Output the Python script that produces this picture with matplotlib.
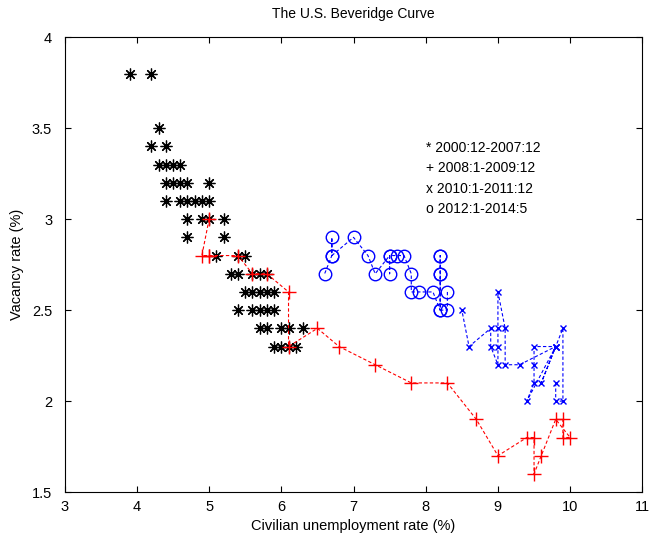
import matplotlib
matplotlib.use('Agg')
import matplotlib.pyplot as plt

plt.rcParams['font.family'] = ['Liberation Sans', 'DejaVu Sans']

# 2000:12-2007:12 (markers only)
u_00 = [3.9, 4.2,
        4.3,
        4.2, 4.4,
        4.3, 4.4, 4.5, 4.6,
        4.4, 4.5, 4.6, 4.7, 5.0,
        4.4, 4.6, 4.7, 4.8, 4.9, 5.0,
        4.7, 4.9, 5.0, 5.2,
        4.7, 5.2,
        5.1, 5.4, 5.5,
        5.3, 5.4, 5.6, 5.7, 5.8,
        5.5, 5.6, 5.7, 5.8, 5.9,
        5.4, 5.6, 5.7, 5.8, 5.9,
        5.7, 5.8, 6.0, 6.1, 6.3,
        5.9, 6.0, 6.1, 6.2]
v_00 = [3.8, 3.8,
        3.5,
        3.4, 3.4,
        3.3, 3.3, 3.3, 3.3,
        3.2, 3.2, 3.2, 3.2, 3.2,
        3.1, 3.1, 3.1, 3.1, 3.1, 3.1,
        3.0, 3.0, 3.0, 3.0,
        2.9, 2.9,
        2.8, 2.8, 2.8,
        2.7, 2.7, 2.7, 2.7, 2.7,
        2.6, 2.6, 2.6, 2.6, 2.6,
        2.5, 2.5, 2.5, 2.5, 2.5,
        2.4, 2.4, 2.4, 2.4, 2.4,
        2.3, 2.3, 2.3, 2.3]

# 2008:1-2009:12
u_08 = [5.0, 4.9, 5.0, 5.0, 5.4, 5.6, 5.8, 6.1, 6.1, 6.5, 6.8, 7.3,
        7.8, 8.3, 8.7, 9.0, 9.4, 9.5, 9.5, 9.6, 9.8, 10.0, 9.9, 9.9]
v_08 = [3.0, 2.8, 2.8, 2.8, 2.8, 2.7, 2.7, 2.6, 2.3, 2.4, 2.3, 2.2,
        2.1, 2.1, 1.9, 1.7, 1.8, 1.8, 1.6, 1.7, 1.9, 1.8, 1.8, 1.9]

# 2010:1-2011:12
u_10 = [9.8, 9.8, 9.9, 9.9, 9.8, 9.4, 9.5, 9.5, 9.5, 9.8, 9.6, 9.8,
        9.3, 9.1, 9.1, 9.0, 9.0, 9.0, 9.0, 8.9, 8.9, 8.6, 8.5]
v_10 = [2.1, 2.0, 2.0, 2.4, 2.3, 2.0, 2.1, 2.2, 2.3, 2.3, 2.1, 2.3,
        2.2, 2.2, 2.4, 2.6, 2.4, 2.3, 2.2, 2.3, 2.4, 2.3, 2.5]

# 2012:1-2014:5
u_12 = [8.3, 8.3, 8.2, 8.2, 8.2, 8.2, 8.2, 8.2, 8.1, 7.9, 7.8, 7.8,
        7.7, 7.6, 7.5, 7.5, 7.5, 7.3, 7.2, 7.0, 6.7, 6.7, 6.7, 6.6]
v_12 = [2.6, 2.5, 2.5, 2.7, 2.8, 2.8, 2.7, 2.5, 2.6, 2.6, 2.6, 2.7,
        2.8, 2.8, 2.8, 2.7, 2.8, 2.7, 2.8, 2.9, 2.8, 2.9, 2.8, 2.7]

labels = ['* 2000:12-2007:12', '+ 2008:1-2009:12',
          'x 2010:1-2011:12', 'o 2012:1-2014:5']

fig = plt.figure(figsize=(6.52, 5.39), dpi=100)
ax = fig.add_axes([0.0992, 0.087, 0.8860, 0.844])

ax.plot(u_00, v_00, linestyle='none', marker=(8, 2, 0), markersize=8.5,
        markeredgewidth=0.9, color='k')
ax.plot(u_08, v_08, linestyle=(0, (3, 2)), linewidth=0.8, color='r',
        marker='+', markersize=10, markeredgewidth=1.0)
ax.plot(u_10, v_10, linestyle=(0, (3, 2)), linewidth=0.8, color='b',
        marker='x', markersize=5, markeredgewidth=1.0)
ax.plot(u_12, v_12, linestyle=(0, (3, 2)), linewidth=0.8, color='b',
        marker='o', markersize=9, markerfacecolor='none', markeredgewidth=1.0)

for i, s in enumerate(labels):
    ax.text(8.0, 3.39 - 0.111 * i, s, fontsize=10, va='center', ha='left')

ax.set_xlim(3, 11)
ax.set_ylim(1.5, 4)
ax.set_xticks(range(3, 12))
ax.set_yticks([1.5, 2, 2.5, 3, 3.5, 4])
ax.set_yticklabels(['1.5', '2', '2.5', '3', '3.5', '4'])
ax.tick_params(direction='in', length=4, top=True, right=True, labelsize=10.5)
ax.tick_params(axis='x', pad=6)
ax.tick_params(axis='y', pad=9)
for sp in ax.spines.values():
    sp.set_linewidth(0.8)

ax.set_title('The U.S. Beveridge Curve', fontsize=10, pad=14)
ax.set_xlabel('Civilian unemployment rate (%)', fontsize=10.5, labelpad=3)
ax.set_ylabel('Vacancy rate (%)', fontsize=10.5, labelpad=6)

fig.savefig('out.png', dpi=100)
